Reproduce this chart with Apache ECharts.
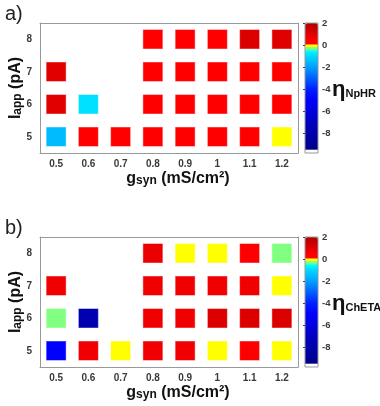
<!DOCTYPE html>
<html><head><meta charset="utf-8">
<script src="https://cdn.jsdelivr.net/npm/echarts@6/dist/echarts.min.js"></script>
<style>html,body{margin:0;padding:0;background:#fff}#c{width:380px;height:406px}</style>
</head><body><div id="c"></div>
<script>
// ---- data ----
const gsynLabels = ['0.5','0.6','0.7','0.8','0.9','1','1.1','1.2'];
const iappLabels = ['5','6','7','8'];
const cbarTicks = [2, 0, -2, -4, -6, -8];
const cbarMin = -9.8, cbarMax = 2;

// panel a: eta_NpHR, one array per Iapp row (null = no square)
const npHR_I5 = [-1.5, 0.3, 0.3, 0.3, 0.3, 0.3, 0.3, -0.1];
const npHR_I6 = [1.0, -0.9, null, 0.3, 0.3, 0.3, 0.3, 0.3];
const npHR_I7 = [1.0, null, null, 0.3, 0.3, 0.3, 0.3, 0.3];
const npHR_I8 = [null, null, null, 0.3, 0.3, 0.3, 1.1, 1.0];

// panel b: eta_ChETA
const chETA_I5 = [-5.0, 0.7, -0.1, 0.7, 0.7, -0.1, 0.3, -0.1];
const chETA_I6 = [-0.3, -7.8, null, 0.7, 0.7, 1.1, 1.1, 1.1];
const chETA_I7 = [0.7, null, null, 0.7, 0.7, 0.7, 0.7, -0.1];
const chETA_I8 = [null, null, null, 0.8, -0.1, -0.1, 0.3, -0.3];

// colormap anchors (value, colour)
const cmapAnchors = [
  [-9.8, '#ffffff'], [-9.46, '#ffffff'], [-9.45, '#00008c'], [-7, '#0000c0'],
  [-5, '#0000ff'], [-4, '#0020ff'], [-3, '#0060ff'], [-2, '#00a0ff'],
  [-1, '#00d8ff'], [-0.5, '#00ffff'], [-0.45, '#80ff80'], [-0.2, '#80ff80'],
  [-0.19, '#ffff00'], [0, '#ffff00'], [0.01, '#ff0000'], [0.4, '#ff0000'], [2, '#b00000']
];

function hex2rgb(h){return [parseInt(h.substr(1,2),16),parseInt(h.substr(3,2),16),parseInt(h.substr(5,2),16)];}
function buildColors(){
  const out = [];
  const step = 0.01;
  const n = Math.round((cbarMax - cbarMin) / step);
  for (let i = 0; i <= n; i++) {
    const v = cbarMin + i * step;
    let k = 0;
    while (k < cmapAnchors.length - 2 && v > cmapAnchors[k + 1][0]) k++;
    const a = cmapAnchors[k], b = cmapAnchors[k + 1];
    let t = (v - a[0]) / (b[0] - a[0]); t = Math.max(0, Math.min(1, t));
    const ca = hex2rgb(a[1]), cb = hex2rgb(b[1]);
    const c = ca.map((x, j) => Math.round(x + (cb[j] - x) * t));
    out.push('rgb(' + c.join(',') + ')');
  }
  return out;
}
const colors = buildColors();

function buildData(rows){
  const d = [];
  rows.forEach((row, r) => row.forEach((v, c) => { if (v !== null) d.push([c, r, v]); }));
  return d;
}
const dataA = buildData([npHR_I5, npHR_I6, npHR_I7, npHR_I8]);
const dataB = buildData([chETA_I5, chETA_I6, chETA_I7, chETA_I8]);

// ---- chart ----
const FONT = 'Liberation Sans';
const AX = '#999';
const TXT = '#3a3a3a';
const chart = echarts.init(document.getElementById('c'));

const panels = [{top: 23}, {top: 237}];
const grids = [], xAxes = [], yAxes = [], series = [], visualMaps = [], titles = [];
const names = ['NpHR', 'ChETA'];
const datas = [dataA, dataB];

panels.forEach((p, i) => {
  const gMain = grids.length;
  grids.push({left: 40, top: p.top, width: 258, height: 130, show: false, outerBoundsMode: 'none', containLabel: false});
  const gBar = grids.length;
  grids.push({left: 305, top: p.top, width: 13, height: 130, show: true, z: 10, outerBoundsMode: 'none', containLabel: false,
    borderColor: AX, borderWidth: 1, backgroundColor: 'transparent'});

  const xi = xAxes.length;
  xAxes.push({gridIndex: gMain, type: 'category', data: gsynLabels, position: 'bottom',
    axisLine: {lineStyle: {color: AX}}, axisTick: {inside: true, alignWithLabel: true, length: 3, lineStyle: {color: '#666'}},
    axisLabel: {fontFamily: FONT, fontWeight: 'bold', fontSize: 10, color: TXT, margin: 6},
    name: '{g|g}{s|syn}{g| (mS/cm²)}', nameLocation: 'middle', nameGap: 17,
    nameTextStyle: {padding: [0, 0, 0, 18], rich: {
      g: {fontFamily: FONT, fontWeight: 'bold', fontSize: 16, color: '#111'},
      s: {fontFamily: FONT, fontWeight: 'bold', fontSize: 12, color: '#111', padding: [5, 0, 0, 0]}}}
  });
  xAxes.push({gridIndex: gMain, type: 'category', data: gsynLabels, position: 'top',
    axisLine: {lineStyle: {color: AX}}, axisTick: {inside: true, alignWithLabel: true, length: 3, lineStyle: {color: '#666'}},
    axisLabel: {show: false}});
  xAxes.push({gridIndex: gBar, type: 'value', min: 0, max: 1, show: false});

  const yi = yAxes.length;
  yAxes.push({gridIndex: gMain, type: 'category', data: iappLabels, position: 'left',
    axisLine: {lineStyle: {color: AX}}, axisTick: {inside: true, alignWithLabel: true, length: 3, lineStyle: {color: '#666'}},
    axisLabel: {fontFamily: FONT, fontWeight: 'bold', fontSize: 10, color: TXT, margin: 8},
    name: '{g|I}{s|app}{g| (pA)}', nameLocation: 'middle', nameGap: 16, nameRotate: 90, nameMoveOverlap: false,
    nameTextStyle: {rich: {
      g: {fontFamily: FONT, fontWeight: 'bold', fontSize: 16, color: '#111'},
      s: {fontFamily: FONT, fontWeight: 'bold', fontSize: 12, color: '#111', padding: [3, 0, 0, 0]}}}
  });
  yAxes.push({gridIndex: gMain, type: 'category', data: iappLabels, position: 'right',
    axisLine: {lineStyle: {color: AX}}, axisTick: {inside: true, alignWithLabel: true, length: 3, lineStyle: {color: '#666'}},
    axisLabel: {show: false}});
  yAxes.push({gridIndex: gBar, type: 'value', min: cbarMin, max: cbarMax, position: 'right', z: 10,
    splitLine: {show: false},
    axisLine: {show: false},
    axisTick: {inside: true, length: 2, lineStyle: {color: '#444'}, customValues: cbarTicks},
    axisLabel: {fontFamily: FONT, fontWeight: 'bold', fontSize: 9.5, color: TXT, margin: 4, customValues: cbarTicks}
  });

  series.push({type: 'scatter', xAxisIndex: xi, yAxisIndex: yi, symbol: 'rect', symbolSize: [20, 19.5],
    itemStyle: {borderColor: 'rgba(255,255,255,0.45)', borderWidth: 1, opacity: 1},
    data: datas[i], z: 3});

  visualMaps.push({type: 'continuous', seriesIndex: i, dimension: 2, min: cbarMin, max: cbarMax,
    orient: 'vertical', left: 305, top: p.top, itemWidth: 13, itemHeight: 130, padding: 0,
    calculable: false, hoverLink: false, text: null, showLabel: false, inRange: {color: colors}});

  titles.push({text: ['a)', 'b)'][i], left: 5, top: p.top - 19, padding: 0,
    textStyle: {fontFamily: FONT, fontSize: 20, fontWeight: 'normal', color: '#222'}});
  titles.push({text: '{e|η}{s|' + names[i] + '}', left: 332, top: p.top + 56, padding: 0,
    textStyle: {rich: {
      e: {fontFamily: FONT, fontWeight: 'bold', fontSize: 22, color: '#111'},
      s: {fontFamily: FONT, fontWeight: 'bold', fontSize: 11, color: '#111', padding: [8, 0, 0, 0]}}}});
});

chart.setOption({
  animation: false,
  backgroundColor: '#fff',
  title: titles,
  grid: grids,
  xAxis: xAxes,
  yAxis: yAxes,
  visualMap: visualMaps,
  series: series
});
</script></body></html>
